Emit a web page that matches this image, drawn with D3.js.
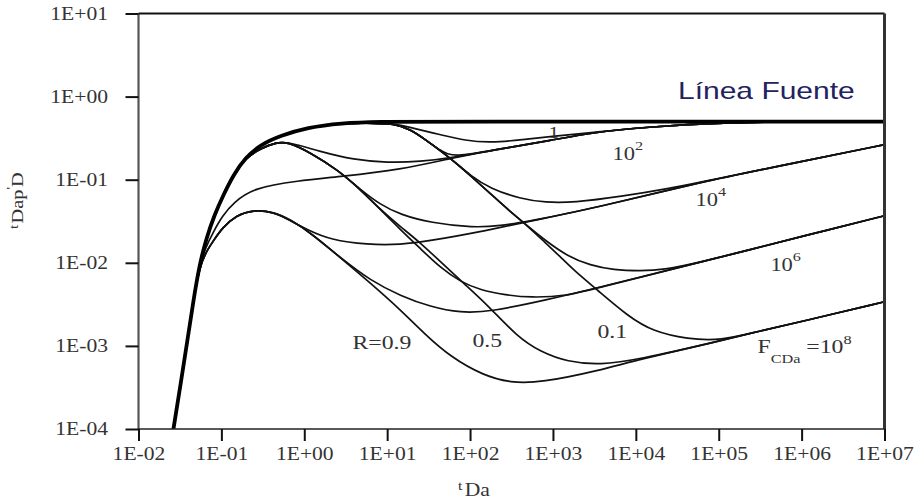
<!DOCTYPE html>
<html>
<head>
<meta charset="utf-8">
<script src="https://cdn.jsdelivr.net/npm/d3@7"></script>
<style>
  body { margin: 0; background: #fff; }
</style>
</head>
<body>
<svg id="chart" width="915" height="501"></svg>
<script>
var xTicks = [1e-2, 1e-1, 1e0, 1e1, 1e2, 1e3, 1e4, 1e5, 1e6, 1e7];
var yTicks = [1e-4, 1e-3, 1e-2, 1e-1, 1e0, 1e1];

// points are [tDa, tDa*p'D]
// linea fuente (source line)
var sourceLine = [[0.0264,1e-4],[0.0321,3.39e-4],[0.0390,1.18e-3],[0.0461,3.58e-3],[0.0544,9.46e-3],
  [0.0661,0.0200],[0.0826,0.0379],[0.106,0.0659],[0.140,0.115],[0.195,0.184],[0.296,0.264],
  [0.517,0.339],[1.09,0.424],[2.73,0.48],[8.3,0.5],[30,0.5],[1e7,0.5]];

// late time FCDa lines
var f2Line = [[63,0.184],[233,0.236],[933,0.295],[2830,0.368],[15000,0.435],[1.14e5,0.486],[9.7e5,0.5],[1e7,0.5]];
var f4Line = [[492,0.0312],[3740,0.0473],[55300,0.092],[9.7e5,0.165],[1e7,0.264]];
var f6Line = [[3080,0.00486],[42000,0.0093],[2.41e5,0.0144],[9.7e5,0.0206],[1e7,0.0368]];
var f8Line = [[10400,0.00068],[1.05e5,0.00115],[3.18e5,0.00152],[9.7e5,0.00195],[1e7,0.0034]];

// R = 0.9
var r9Peak = [[0.0544,0.0087],[0.0643,0.0132],[0.080,0.0184],[0.103,0.0264],[0.148,0.0368],[0.244,0.0435],[0.425,0.041]];
var r9F2 = [[0.0544,0.0092],[0.0643,0.0152],[0.080,0.0236],[0.103,0.0368],[0.140,0.053],[0.244,0.080],
  [0.83,0.097],[2.73,0.109],[14.5,0.132]];
var r9F4 = [[0.682,0.032],[1.09,0.025],[2.07,0.0189],[5.79,0.0165],[14.5,0.0165],[33.3,0.0184],[133,0.0236]];
var r9F6 = [[0.682,0.033],[1.19,0.023],[2.73,0.0115],[6.3,0.0061],[14.5,0.0040],[33.3,0.00295],[76.6,0.0025],[176,0.00257],[859,0.0036]];
var r9F8 = [[0.682,0.033],[1.19,0.023],[2.73,0.0115],[6.3,0.0057],[14.5,0.00272],[29,0.00136],[58,0.00074],
  [145,0.00044],[307,0.00036],[707,0.00036],[3740,0.00051]];

// R = 0.5
var r5Peak = [[0.313,0.243],[0.45,0.279],[0.63,0.287]];
var r5F2 = [[1.57,0.217],[3.93,0.174],[10.1,0.160],[25.2,0.165]];
var r5Drop = [[1.19,0.211],[2.51,0.132],[4.76,0.076]];
var r5F4 = [[8.3,0.050],[14.5,0.0379],[33.3,0.0303],[110,0.0264],[233,0.0279]];
var r5F6 = [[8.3,0.0435],[14.5,0.025],[25.2,0.0148],[44,0.0087],[76.6,0.0059],[133,0.0047],[267,0.0041],[535,0.0038],[1500,0.0040]];
var r5F8 = [[8.3,0.0435],[14.5,0.0271],[25.2,0.0174],[44,0.0103],[83,0.0057],[162,0.00312],[373,0.00128],
  [707,0.00085],[1500,0.00064],[3740,0.00059]];

// R = 0.1
var r1Peak = [[5.5,0.482],[12.6,0.473]];
var r1F1 = [[19.1,0.423],[44,0.348],[88,0.295],[176,0.279],[441,0.303],[933,0.33]];
var r1F2 = [[19.1,0.40],[29,0.303],[44,0.223]];
var r1Drop = [[19.1,0.40],[29,0.303],[44,0.223],[63,0.169],[101,0.112]];
var r1F4 = [[176,0.078],[405,0.059],[812,0.053],[1770,0.053],[6520,0.0624],[28400,0.080]];
var r1Drop2 = [[176,0.0678],[307,0.0411],[492,0.0279]];
var r1F6 = [[812,0.0185],[1500,0.0120],[2830,0.0093],[5370,0.0082],[11400,0.0080],[21500,0.0082],[55300,0.0100]];
var r1F8 = [[812,0.0174],[1230,0.0118],[1770,0.0082],[3440,0.0047],[7930,0.0023],[16300,0.00148],[42000,0.00121]];

// curve labels, anchored at [tDa, value]
var labels = [
  { t: 3.81, v: 9.2e-4, parts: [["R=0.9", 19, 0]] },
  { t: 107, v: 9.7e-4, parts: [["0.5", 19, 0]] },
  { t: 3440, v: 1.25e-3, parts: [["0.1", 19, 0]] },
  { t: 883, v: 0.321, parts: [["1", 17, 0]] },
  { t: 5220, v: 0.174, parts: [["10", 18, 0], ["2", 13, -10]] },
  { t: 52400, v: 0.0486, parts: [["10", 18, 0], ["4", 13, -10]] },
  { t: 4.2e5, v: 0.0080, parts: [["10", 18, 0], ["6", 13, -10]] },
  { t: 2.93e5, v: 8.2e-4, parts: [["F", 19, 0], ["CDa", 13, 10], [" =10", 19, -10], ["8", 13, -9]] }
];

var rise = sourceLine.slice(0, 4);
var toR5 = sourceLine.slice(0, 10);
var toR1 = sourceLine.slice(0, 14);

var curves = [
  rise.concat(r9F2, f2Line),
  rise.concat(r9Peak, r9F4, f4Line),
  rise.concat(r9Peak, r9F6, f6Line),
  rise.concat(r9Peak, r9F8, f8Line),
  toR5.concat(r5Peak, r5F2, f2Line),
  toR5.concat(r5Peak, r5Drop, r5F4, f4Line),
  toR5.concat(r5Peak, r5Drop, r5F6, f6Line),
  toR5.concat(r5Peak, r5Drop, r5F8, f8Line),
  toR1.concat(r1Peak, r1F1, f2Line.slice(3)),
  toR1.concat(r1Peak, r1F2, f2Line),
  toR1.concat(r1Peak, r1Drop, r1F4, f4Line.slice(2)),
  toR1.concat(r1Peak, r1Drop, r1Drop2, r1F6, f6Line.slice(2)),
  toR1.concat(r1Peak, r1Drop, r1Drop2, r1F8, f8Line.slice(1))
];

var svg = d3.select("#chart");
var serif = "'Liberation Serif', 'Times New Roman', serif";

var x = d3.scaleLog().domain([1e-2, 1e7]).range([138.5, 884.5]);
var y = d3.scaleLog().domain([1e-4, 1e1]).range([429, 13.5]);

function fmt(d) {
  var e = Math.round(Math.log10(d));
  return "1E" + (e < 0 ? "-" : "+") + String(Math.abs(e)).padStart(2, "0");
}

svg.append("defs").append("clipPath").attr("id", "plot")
  .append("rect")
  .attr("x", x(1e-2)).attr("y", y(1e1))
  .attr("width", x(1e7) - x(1e-2)).attr("height", y(1e-4) - y(1e1));

var line = d3.line()
  .x(function(d) { return x(d[0]); })
  .y(function(d) { return y(d[1]); })
  .curve(d3.curveBasis);

var plot = svg.append("g").attr("clip-path", "url(#plot)");

plot.selectAll("path.curve")
  .data(curves)
  .join("path")
  .attr("class", "curve")
  .attr("d", line)
  .attr("fill", "none")
  .attr("stroke", "#111")
  .attr("stroke-width", 1.7);

plot.append("path")
  .datum(sourceLine)
  .attr("d", line)
  .attr("fill", "none")
  .attr("stroke", "#000")
  .attr("stroke-width", 3.8);

// frame
svg.append("line").attr("x1", x(1e-2)).attr("x2", x(1e-2)).attr("y1", y(1e1)).attr("y2", y(1e-4))
  .attr("stroke", "#555").attr("stroke-width", 2.2);
svg.append("line").attr("x1", x(1e-2)).attr("x2", x(1e7)).attr("y1", y(1e1)).attr("y2", y(1e1))
  .attr("stroke", "#111").attr("stroke-width", 2);
svg.append("line").attr("x1", x(1e7)).attr("x2", x(1e7)).attr("y1", y(1e1)).attr("y2", y(1e-4))
  .attr("stroke", "#333").attr("stroke-width", 3);
svg.append("line").attr("x1", x(1e-2)).attr("x2", x(1e7)).attr("y1", y(1e-4)).attr("y2", y(1e-4))
  .attr("stroke", "#222").attr("stroke-width", 1.6);

// axes
var gy = svg.append("g")
  .attr("transform", "translate(" + x(1e-2) + ",0)")
  .call(d3.axisLeft(y).tickValues(yTicks).tickSize(13).tickFormat(fmt));
gy.select(".domain").remove();
gy.selectAll(".tick line").attr("stroke", "#111").attr("stroke-width", 2);
gy.selectAll(".tick text")
  .attr("x", -25.4)
  .attr("transform", "scale(1.2,1)")
  .attr("font-family", serif)
  .attr("font-size", 18)
  .attr("fill", "#333");

var gx = svg.append("g")
  .attr("transform", "translate(0," + y(1e-4) + ")")
  .call(d3.axisBottom(x).tickValues(xTicks).tickSize(12).tickFormat(fmt));
gx.select(".domain").remove();
gx.selectAll(".tick line").attr("stroke", "#111").attr("stroke-width", 2);
gx.selectAll(".tick text")
  .attr("y", 31)
  .attr("dy", 0)
  .attr("transform", "scale(1.2,1)")
  .attr("font-family", serif)
  .attr("font-size", 18)
  .attr("fill", "#333");

// axis titles
var xt = svg.append("text")
  .attr("transform", "translate(458,496) scale(1.2,1)")
  .attr("font-family", serif)
  .attr("fill", "#333");
xt.append("tspan").attr("font-size", 13).attr("dy", -6).text("t");
xt.append("tspan").attr("font-size", 18).attr("dx", 2).attr("dy", 6).text("Da");

var yt = svg.append("text")
  .attr("transform", "translate(23,229) rotate(-90) scale(1.2,1)")
  .attr("font-family", serif)
  .attr("fill", "#333");
yt.append("tspan").attr("font-size", 13).attr("dy", -5).text("t");
yt.append("tspan").attr("font-size", 17).attr("dx", 1).attr("dy", 5).text("Da");
yt.append("tspan").attr("font-size", 17).text("p");
yt.append("tspan").attr("font-size", 12).attr("dy", -8).text("'");
yt.append("tspan").attr("font-size", 17).attr("dy", 8).text("D");

// curve labels
labels.forEach(function(l) {
  var t = svg.append("text")
    .attr("transform", "translate(" + x(l.t) + "," + y(l.v) + ") scale(1.25,1)")
    .attr("font-family", serif)
    .attr("fill", "#333");
  l.parts.forEach(function(p) {
    t.append("tspan").attr("font-size", p[1]).attr("dy", p[2]).text(p[0]);
  });
});

svg.append("text")
  .attr("transform", "translate(678,99) scale(1.25,1)")
  .attr("font-family", "'Liberation Sans', Arial, sans-serif")
  .attr("font-size", 24)
  .attr("fill", "#23225e")
  .text("Línea Fuente");
</script>
</body>
</html>
